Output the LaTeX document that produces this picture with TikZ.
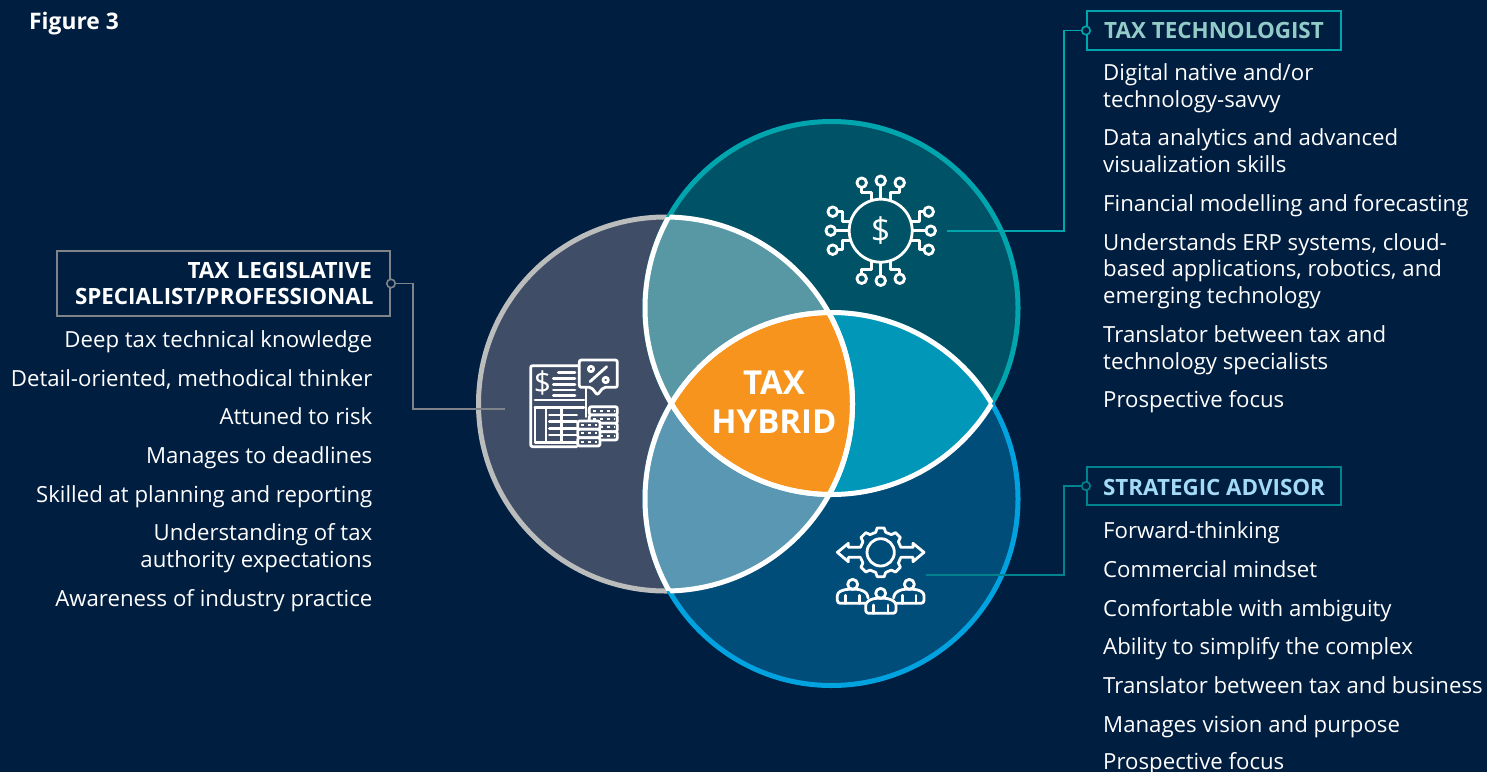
\documentclass[tikz,border=0pt]{standalone}
\usepackage{fontspec}
\setmainfont{Open Sans}
\definecolor{navy}{HTML}{001E40}
\definecolor{techfill}{HTML}{005266}
\definecolor{techline}{HTML}{00A5AD}
\definecolor{techlead}{HTML}{00838C}
\definecolor{techhead}{HTML}{93CBC8}
\definecolor{advfill}{HTML}{004D7A}
\definecolor{advline}{HTML}{00A3E0}
\definecolor{advhead}{HTML}{A3DAF5}
\definecolor{lawfill}{HTML}{3F4E66}
\definecolor{lawline}{HTML}{BBBCBC}
\definecolor{lawlead}{HTML}{7F848A}
\definecolor{lensa}{HTML}{5898A4}
\definecolor{lensb}{HTML}{5997B3}
\definecolor{lensc}{HTML}{0097B8}
\definecolor{hybrid}{HTML}{F7941D}
\tikzset{
  body/.style={text=white,inner sep=0pt,font=\fontsize{22.2}{26.5}\selectfont},
  rightitem/.style={body,anchor=base west,align=left},
  leftitem/.style={body,anchor=base east,align=right},
  headbox/.style={draw,line width=2pt,fill=navy,inner sep=0pt,font=\bfseries\fontsize{22.4}{26.5}\selectfont},
  leaddot/.style={circle,draw,fill=navy,line width=1.6pt,inner sep=0pt,minimum size=8.5pt},
  lead/.style={line width=1.6pt},
  icon/.style={draw=white,line width=2.8pt,line join=round,line cap=round},
  whitearc/.style={draw=white,line width=5pt},
}
\begin{document}
\begin{tikzpicture}[x=1pt,y=-1pt]
    \useasboundingbox[fill=navy] (0,0) rectangle (1487,772);

    \coordinate (techc) at (831.5,308);
    \coordinate (advc) at (831.5,499);
    \coordinate (lawc) at (665.5,404);

    % the three circles
    \draw[fill=lawfill, draw=lawline, line width=5pt] (lawc) circle (187);
    \draw[fill=techfill, draw=techline, line width=5pt] (techc) circle (186.5);
    \draw[fill=advfill, draw=advline, line width=5pt] (advc) circle (186.5);

    % overlaps
    \begin{scope}
      \clip (lawc) circle (187);
      \fill[lensa] (techc) circle (186.5);
      \fill[lensb] (advc) circle (186.5);
    \end{scope}
    \begin{scope}
      \clip (techc) circle (186.5);
      \fill[lensc] (advc) circle (186.5);
      \clip (advc) circle (186.5);
      \fill[hybrid] (lawc) circle (187);
    \end{scope}

    % white edges inside the other circles
    \begin{scope}
      \clip (lawc) circle (187);
      \draw[whitearc] (techc) circle (186.5);
      \draw[whitearc] (advc) circle (186.5);
    \end{scope}
    \begin{scope}
      \clip (techc) circle (186.5);
      \draw[whitearc] (lawc) circle (187);
      \draw[whitearc] (advc) circle (186.5);
    \end{scope}
    \begin{scope}
      \clip (advc) circle (186.5);
      \draw[whitearc] (lawc) circle (187);
      \draw[whitearc] (techc) circle (186.5);
    \end{scope}

    \node (hybridlabel) at (774,402) [text=white,align=center,font=\bfseries\fontsize{33}{38.6}\selectfont]{TAX\\HYBRID};
    \node (figlabel) at (29,29) [anchor=base west,inner sep=0pt,text=white,font=\bfseries\fontsize{22.8}{26}\selectfont]{Figure 3};

    % headings
    \node (techbox) at (1214,30.5) [headbox,draw=techline,text=techhead,minimum width=254,minimum height=39]{TAX TECHNOLOGIST};
    \node (advbox) at (1214,486) [headbox,draw=techlead,text=advhead,minimum width=254,minimum height=38,text height=20]{STRATEGIC ADVISOR};
    \node (lawbox) at (223.5,283.5) [headbox,draw=lawlead,text=white,inner xsep=18,text width=297,align=right,minimum height=65]{TAX LEGISLATIVE\\SPECIALIST/PROFESSIONAL};

    % leader lines
    \node (techdot) at (techbox.west) [leaddot,draw=techline]{};
    \node (advdot) at (advbox.west) [leaddot,draw=techlead]{};
    \node (lawdot) at (lawbox.east) [leaddot,draw=lawlead]{};
    \coordinate (techbendA) at (1064,30.5);
    \coordinate (techbendB) at (1064,231);
    \coordinate (techend) at (947,231);
    \coordinate (advbendA) at (1064,486);
    \coordinate (advbendB) at (1064,575);
    \coordinate (advend) at (926,575);
    \coordinate (lawbendA) at (413,283.5);
    \coordinate (lawbendB) at (413,409);
    \coordinate (lawend) at (505,409);
    \draw[lead, techline] (techdot) -- (techbendA) -- (techbendB) -- (techend);
    \draw[lead, techlead] (advdot) -- (advbendA) -- (advbendB) -- (advend);
    \draw[lead, lawlead] (lawdot) -- (lawbendA) -- (lawbendB) -- (lawend);

    % right column, top
    \node (techa) at (1103,107) [rightitem]{Digital native and/or\\technology-savvy};
    \node (techb) at (1103,172) [rightitem]{Data analytics and advanced\\visualization skills};
    \node (techd) at (1103,211) [rightitem]{Financial modelling and forecasting};
    \node (teche) at (1103,303) [rightitem]{Understands ERP systems, cloud-\\based applications, robotics, and\\emerging technology};
    \node (techf) at (1103,369) [rightitem]{Translator between tax and\\technology specialists};
    \node (techg) at (1103,407) [rightitem]{Prospective focus};

    % right column, bottom
    \node (adva) at (1103,538) [rightitem]{Forward-thinking};
    \node (advb) at (1103,577) [rightitem]{Commercial mindset};
    \node (advd) at (1103,616) [rightitem]{Comfortable with ambiguity};
    \node (adve) at (1103,654) [rightitem]{Ability to simplify the complex};
    \node (advf) at (1103,693) [rightitem]{Translator between tax and business};
    \node (advg) at (1103,732) [rightitem]{Manages vision and purpose};
    \node (advh) at (1103,769) [rightitem]{Prospective focus};

    % left column
    \node (lawa) at (372.5,347) [leftitem]{Deep tax technical knowledge};
    \node (lawb) at (372.5,386) [leftitem]{Detail-oriented, methodical thinker};
    \node (lawd) at (372.5,424) [leftitem]{Attuned to risk};
    \node (lawe) at (372.5,463) [leftitem]{Manages to deadlines};
    \node (lawf) at (372.5,502) [leftitem]{Skilled at planning and reporting};
    \node (lawg) at (372.5,567) [leftitem]{Understanding of tax\\authority expectations};
    \node (lawh) at (372.5,606) [leftitem]{Awareness of industry practice};

    % circuit icon
    \begin{scope}[shift={(880.7,230.7)}]
      \draw[icon] (0,0) circle (31.5);
      \node (dollar) at (0,0) [text=white,inner sep=0pt,font=\fontsize{34}{34}\selectfont]{\$};
      \foreach \a in {0,90,180,270}{
        \begin{scope}[rotate=\a]
          \draw[icon] (0,-50) circle (4.8);
          \draw[icon] (-19,-48) circle (4.8);
          \draw[icon] (19,-48) circle (4.8);
          \draw[icon] (0,-45) -- (0,-32);
          \draw[icon] (-19,-43) -- (-19,-38.5) -- (-9.5,-38.5) -- (-9.5,-31);
          \draw[icon] (19,-43) -- (19,-38.5) -- (9.5,-38.5) -- (9.5,-31);
        \end{scope}
      }
    \end{scope}

    % tax sheet icon
    \begin{scope}[shift={(510,345)},scale=1/3]
      \draw[icon,rounded corners=2pt] (205,62) -- (62,62) -- (62,305) -- (200,305);
      \draw[icon] (228,130) -- (228,215);
      \node (sheetdollar) at (97,115) [text=white,inner sep=0pt,font=\fontsize{30}{30}\selectfont]{\$};
      \draw[icon] (145,82) -- (195,82);
      \draw[icon] (130,100) -- (195,100);
      \draw[icon] (130,118) -- (195,118);
      \draw[icon] (130,135) -- (195,135);
      \draw[icon] (130,152) -- (195,152);
      \draw[icon] (75,165) -- (222,165);
      \draw[icon] (75,187) -- (222,187);
      \draw[icon] (75,187) -- (75,292) -- (200,292);
      \draw[icon] (108,187) -- (108,292);
      \draw[icon] (155,187) -- (155,292);
      \foreach \y in {210,230,250,270}{
        \draw[icon] (118,\y) -- (200,\y);
      }
      % speech bubble
      \draw[icon,rounded corners=2pt] (208,45) -- (322,45) -- (322,127) -- (280,127) -- (262,150) -- (244,127) -- (208,127) -- cycle;
      \draw[icon] (240,110) -- (290,65);
      \draw[icon] (243,72) circle (8);
      \draw[icon] (287,105) circle (8);
      % coins
      \foreach \y in {185,210,235,260}{
        \draw[icon,fill=lawfill,rounded corners=2pt] (238,\y) rectangle (322,\y+25);
        \draw[icon,line width=2pt,line cap=butt,dash pattern=on 3pt off 4pt] (248,\y+12) -- (315,\y+12);
      }
      \foreach \y in {228,253,278}{
        \draw[icon,fill=lawfill,rounded corners=2pt] (203,\y) rectangle (270,\y+25);
        \draw[icon,line width=2pt,line cap=butt,dash pattern=on 3pt off 4pt] (212,\y+12) -- (262,\y+12);
      }
    \end{scope}

    % gear icon
    \begin{scope}[shift={(820,515)},scale=1/3]
      \begin{scope}[shift={(182,112)}]
        \draw[icon] (0,0) circle (41);
        \foreach \a in {0,180}{
          \draw[icon,rotate=\a] (17:62) \foreach \t in {45,90,135}{
            -- (\t-14:62) -- (\t-8:74) -- (\t+8:74) -- (\t+14:62)
          } -- (163:62);
        }
      \end{scope}
      \draw[icon] (122,97) -- (85,97) -- (85,85) -- (52,112) -- (85,140) -- (85,127) -- (122,127);
      \draw[icon] (242,97) -- (279,97) -- (279,85) -- (312,112) -- (279,140) -- (279,127) -- (242,127);
    \end{scope}

    % team icon
    \begin{scope}[shift={(830,570)},scale=1/3]
      \draw[icon] (68,43) circle (15);
      \draw[icon] (238,43) circle (15);
      \draw[icon,rounded corners=3pt] (107,100) -- (22,100) -- (22,68) -- (45,58) -- (90,58) -- (112,70) -- (114,84);
      \draw[icon] (47,76) -- (47,100);
      \draw[icon] (88,76) -- (88,100);
      \draw[icon,rounded corners=3pt] (198,100) -- (282,100) -- (282,68) -- (260,58) -- (215,58) -- (193,70) -- (191,84);
      \draw[icon] (217,76) -- (217,100);
      \draw[icon] (258,76) -- (258,100);
      \draw[icon] (152,70) circle (15);
      \draw[icon,rounded corners=3pt] (107,130) -- (107,97) -- (130,85) -- (175,85) -- (198,97) -- (198,130) -- cycle;
      \draw[icon] (131,105) -- (131,130);
      \draw[icon] (174,105) -- (174,130);
    \end{scope}
\end{tikzpicture}
\end{document}
